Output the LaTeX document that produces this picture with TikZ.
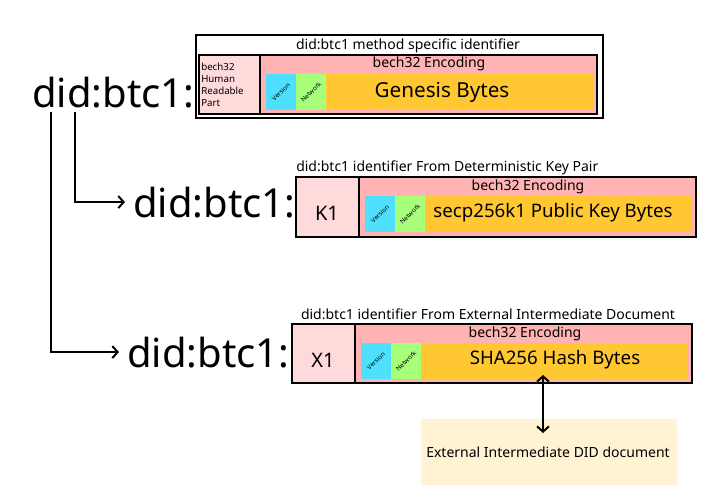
\documentclass[tikz,border=0pt]{standalone}
\usepackage{fontspec}
\setmainfont{Noto Sans}
\usetikzlibrary{arrows.meta,positioning,calc,fit}

\definecolor{hrpPink}{HTML}{FFDADA}
\definecolor{encPink}{HTML}{FFB3B3}
\definecolor{verCyan}{HTML}{50E0FF}
\definecolor{netGreen}{HTML}{A8FF7A}
\definecolor{payOrange}{HTML}{FFC833}
\definecolor{docCream}{HTML}{FFF3D4}

\begin{document}
\begin{tikzpicture}[x=0.75pt, y=-0.75pt,
    frame/.style={draw, line width=0.8pt, inner sep=0pt},
    hrp/.style={draw, line width=1.1pt, inner sep=0pt, fill=hrpPink},
    enc/.style={draw, line width=1.1pt, inner sep=0pt, fill=encPink},
    ver/.style={inner sep=0pt, fill=verCyan},
    net/.style={inner sep=0pt, fill=netGreen},
    payload/.style={inner sep=0pt, fill=payOrange},
    didtxt/.style={inner sep=0pt, anchor=base west, font=\fontsize{30}{32}\selectfont},
    ttl/.style={inner sep=0pt, font=\fontsize{10.5}{12}\selectfont},
    tag/.style={inner sep=0pt, rotate=45, font=\fontsize{4.8}{5.5}\selectfont},
    big/.style={inner sep=0pt, font=\fontsize{14}{16}\selectfont},
    arr/.style={-{Straight Barb[length=4pt,width=9pt]}, line width=1.5pt},
    darr/.style={{Straight Barb[length=4pt,width=9pt]}-{Straight Barb[length=4pt,width=9pt]}, line width=1.5pt}
]
\useasboundingbox (0,0) rectangle (727,496);

% method specific identifier
\node[frame, fit={(196,35) (603,118)}] (msi) {};
\node[ttl] (msiT) at (408,46) {did:btc1 method specific identifier};
\node[hrp, fit={(199,55) (260,114)}] (hrpA) {};
\node[enc, fit={(260,55) (597,114)}] (encA) {};
\node[ver, fit={(266,74) (296,110)}] (verA) {};
\node[net, fit={(296,74) (326,110)}] (netA) {};
\node[payload, fit={(326,74) (593,110)}] (payA) {};
\node[ttl] at (429,64) {bech32 Encoding};
\node[tag] at (verA.center) {Version};
\node[tag] at (netA.center) {Network};
\node[inner sep=0pt, font=\fontsize{15.5}{17}\selectfont] (genesis) at (442,92) {Genesis Bytes};
\node[inner sep=0pt, anchor=west, align=left, font=\fontsize{7.3}{9}\selectfont] (hrpT) at (201,85) {bech32\\Human\\Readable\\Part};
\node[didtxt] (didA) at (32,107) {did:btc1:};

% deterministic key pair
\node[ttl, anchor=west] (keyT) at (296,168) {did:btc1 identifier From Deterministic Key Pair};
\node[hrp, fit={(296,177) (359,237)}] (hrpK) {};
\node[enc, fit={(359,177) (696,237)}] (encK) {};
\node[ver, fit={(365,196) (395,232)}] (verK) {};
\node[net, fit={(395,196) (425,232)}] (netK) {};
\node[payload, fit={(425,196) (692,232)}] (payK) {};
\node[ttl] at (528,187) {bech32 Encoding};
\node[tag] at (verK.center) {Version};
\node[tag] at (netK.center) {Network};
\node[big] (pubkey) at (553,213) {secp256k1 Public Key Bytes};
\node[big, font=\fontsize{15}{17}\selectfont] (k1) at (327,213) {K1};
\node[didtxt] (didB) at (133,217) {did:btc1:};

% external intermediate document
\node[ttl] (extT) at (488,314) {did:btc1 identifier From External Intermediate Document};
\node[hrp, fit={(292,324) (355,383)}] (hrpX) {};
\node[enc, fit={(355,324) (692,383)}] (encX) {};
\node[ver, fit={(361,343) (391,379)}] (verX) {};
\node[net, fit={(391,343) (421,379)}] (netX) {};
\node[payload, fit={(421,343) (688,379)}] (payX) {};
\node[ttl] at (525,334) {bech32 Encoding};
\node[tag] at (verX.center) {Version};
\node[tag] at (netX.center) {Network};
\node[big] (hash) at (555,360) {SHA256 Hash Bytes};
\node[big, font=\fontsize{15}{17}\selectfont] (x1) at (323,360) {X1};
\node[didtxt] (didC) at (127,367) {did:btc1:};

\node[fill=docCream, inner sep=0pt, fit={(421,419) (677,485)}] (extdoc) {};
\node[ttl] (extdocT) at (548,452) {External Intermediate DID document};

\coordinate (hashPt) at (543,375);
\coordinate (docPt) at (543,433);

\draw[arr] ($(didA.base west)+(43,5)$) |- ([xshift=-6pt]didB.west);
\draw[arr] ($(didA.base west)+(19,5)$) |- ([xshift=-6pt]didC.west);
\draw[darr] (hashPt) -- (docPt);
\end{tikzpicture}
\end{document}
